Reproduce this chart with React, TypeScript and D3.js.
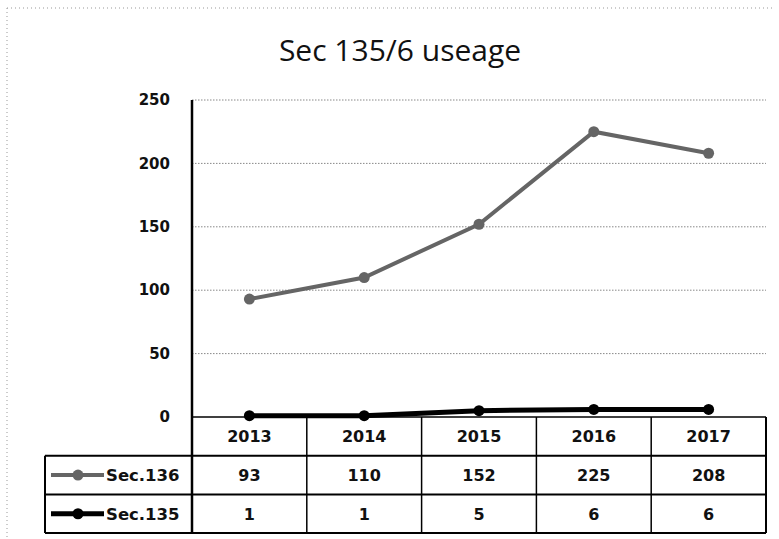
import { useEffect, useRef } from "react";
import * as d3 from "d3";

const years = ["2013", "2014", "2015", "2016", "2017"];
const sec136 = [93, 110, 152, 225, 208];
const sec135 = [1, 1, 5, 6, 6];
const yTicks = [0, 50, 100, 150, 200, 250];

const series = [
  { name: "Sec.136", values: sec136, color: "#656565", width: 4, r: 5.5 },
  { name: "Sec.135", values: sec135, color: "#000000", width: 5, r: 5.5 },
];

export default function App() {
  const ref = useRef<SVGSVGElement | null>(null);

  useEffect(() => {
    if (!ref.current) return;
    const svg = d3.select(ref.current);
    svg.selectAll("*").remove();

    const width = 779;
    const height = 539;
    const plot = { left: 192, right: 766, top: 100, bottom: 417 };
    const rowH = 38.7;
    const tableLeft = 45;
    const font = "'DejaVu Sans', sans-serif";

    svg.attr("width", width).attr("height", height);

    // outer dotted frame (top + left only visible)
    svg.append("line")
      .attr("x1", 7).attr("x2", 775).attr("y1", 8).attr("y2", 8)
      .attr("stroke", "#999").attr("stroke-dasharray", "1,3");
    svg.append("line")
      .attr("x1", 7).attr("x2", 7).attr("y1", 8).attr("y2", 539)
      .attr("stroke", "#999").attr("stroke-dasharray", "1,3");

    const x = d3.scaleBand()
      .domain(years)
      .range([plot.left, plot.right]);

    const y = d3.scaleLinear()
      .domain([0, 250])
      .range([plot.bottom, plot.top]);

    // Title
    svg.append("text")
      .attr("x", 400)
      .attr("y", 61)
      .attr("text-anchor", "middle")
      .attr("font-family", "'Open Sans', sans-serif")
      .attr("font-size", "30px")
      .attr("fill", "#111")
      .text("Sec 135/6 useage");

    // Grid lines
    svg.selectAll("line.grid")
      .data(yTicks.filter(d => d > 0))
      .enter()
      .append("line")
      .attr("class", "grid")
      .attr("x1", plot.left)
      .attr("x2", plot.right)
      .attr("y1", d => y(d))
      .attr("y2", d => y(d))
      .attr("stroke", "#888")
      .attr("stroke-dasharray", "1.5,1.5");

    // Y tick labels
    svg.selectAll("text.ytick")
      .data(yTicks)
      .enter()
      .append("text")
      .attr("class", "ytick")
      .attr("x", 170)
      .attr("y", d => y(d))
      .attr("dy", "0.35em")
      .attr("text-anchor", "end")
      .attr("font-family", font)
      .attr("font-weight", "bold")
      .attr("font-size", "15px")
      .attr("fill", "#111")
      .text(d => d);

    // Data table
    const tableBottom = plot.bottom + rowH * 3;
    const t = svg.append("g").attr("stroke", "#000").attr("stroke-width", 2);
    [1, 2, 3].forEach(i => {
      t.append("line")
        .attr("x1", tableLeft)
        .attr("x2", plot.right)
        .attr("y1", plot.bottom + rowH * i)
        .attr("y2", plot.bottom + rowH * i);
    });
    t.append("line")
      .attr("x1", plot.right).attr("x2", plot.right)
      .attr("y1", plot.bottom).attr("y2", tableBottom);
    t.append("line")
      .attr("x1", plot.left).attr("x2", plot.right)
      .attr("y1", plot.bottom).attr("y2", plot.bottom)
      .attr("stroke-width", 1.5);
    t.append("line")
      .attr("x1", tableLeft).attr("x2", tableLeft)
      .attr("y1", plot.bottom + rowH).attr("y2", tableBottom);
    t.selectAll("line.col")
      .data(years.slice(1))
      .enter()
      .append("line")
      .attr("class", "col")
      .attr("x1", d => x(d)!)
      .attr("x2", d => x(d)!)
      .attr("y1", plot.bottom)
      .attr("y2", tableBottom)
      .attr("stroke-width", 1.5);

    // Y axis line (runs through the table)
    svg.append("line")
      .attr("x1", plot.left).attr("x2", plot.left)
      .attr("y1", plot.top).attr("y2", tableBottom)
      .attr("stroke", "#000").attr("stroke-width", 2.5);

    // Header years
    svg.selectAll("text.year")
      .data(years)
      .enter()
      .append("text")
      .attr("class", "year")
      .attr("x", d => x(d)! + x.bandwidth() / 2)
      .attr("y", plot.bottom + rowH / 2)
      .attr("dy", "0.36em")
      .attr("text-anchor", "middle")
      .attr("font-family", font)
      .attr("font-weight", "bold")
      .attr("font-size", "16px")
      .attr("fill", "#111")
      .text(d => d);

    // Value rows + legend keys
    series.forEach((s, i) => {
      const rowMid = plot.bottom + rowH * (i + 1) + rowH / 2;
      svg.selectAll(`text.val${i}`)
        .data(s.values)
        .enter()
        .append("text")
        .attr("x", (_, j) => x(years[j])! + x.bandwidth() / 2)
        .attr("y", rowMid)
        .attr("dy", "0.36em")
        .attr("text-anchor", "middle")
        .attr("font-family", font)
        .attr("font-weight", "bold")
        .attr("font-size", "16px")
        .attr("fill", "#111")
        .text(d => d);

      svg.append("line")
        .attr("x1", 51).attr("x2", 104)
        .attr("y1", rowMid).attr("y2", rowMid)
        .attr("stroke", s.color).attr("stroke-width", s.width);
      svg.append("circle")
        .attr("cx", 78).attr("cy", rowMid).attr("r", s.r)
        .attr("fill", s.color);
      svg.append("text")
        .attr("x", 106)
        .attr("y", rowMid)
        .attr("dy", "0.36em")
        .attr("font-family", font)
        .attr("font-weight", "bold")
        .attr("font-size", "16.5px")
        .attr("fill", "#111")
        .text(s.name);
    });

    // Lines
    const line = d3.line<number>()
      .x((_, j) => x(years[j])! + x.bandwidth() / 2)
      .y(d => y(d));

    series.forEach(s => {
      svg.append("path")
        .datum(s.values)
        .attr("d", line)
        .attr("fill", "none")
        .attr("stroke", s.color)
        .attr("stroke-width", s.width);
      svg.selectAll(null)
        .data(s.values)
        .enter()
        .append("circle")
        .attr("cx", (_, j) => x(years[j])! + x.bandwidth() / 2)
        .attr("cy", d => y(d))
        .attr("r", s.r)
        .attr("fill", s.color);
    });
  }, []);

  return (
    <div style={{ position: "absolute", left: 0, top: 0 }}>
      <svg ref={ref} style={{ display: "block" }} />
    </div>
  );
}
